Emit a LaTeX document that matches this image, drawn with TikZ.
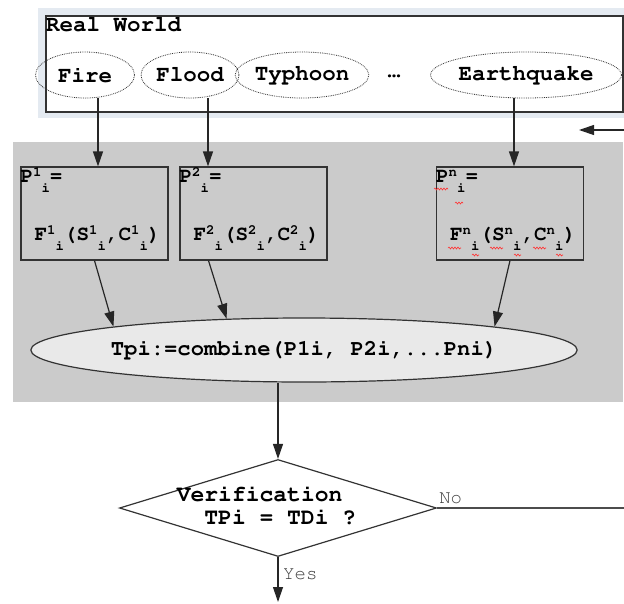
\documentclass[tikz,border=0pt]{standalone}
\usepackage[T1]{fontenc}
\usepackage{courier}
\usepackage{tikz}
\usetikzlibrary{shapes.geometric}
\usetikzlibrary{arrows.meta}
\usetikzlibrary{decorations.pathmorphing}

\definecolor{panel}{HTML}{CBCBCB}
\definecolor{halo}{HTML}{E4EAF1}
\definecolor{ovalfill}{HTML}{E9E9E9}
\definecolor{edge}{HTML}{333333}

% superscript and subscript side by side, as in the scan
\newcommand{\supsub}[2]{\raisebox{6pt}{\fontsize{14}{14}\selectfont #1}\raisebox{-10pt}{\fontsize{14}{14}\selectfont #2}}

\begin{document}
\begin{tikzpicture}[x=1pt, y=-1pt,
    bigtext/.style={font=\ttfamily\bfseries\fontsize{22.5}{23}\selectfont},
    hazard/.style={ellipse, draw=edge, densely dotted, line width=0.8pt, inner sep=0pt, minimum height=46pt, bigtext},
    pbox/.style={rectangle, draw=edge, line width=1.2pt, minimum width=147pt, minimum height=93pt, inner sep=0pt},
    boxtext/.style={inner sep=0pt, anchor=base west, font=\ttfamily\bfseries\fontsize{21}{21}\selectfont},
    combine/.style={ellipse, draw=edge, fill=ovalfill, line width=1.2pt, minimum width=470pt, minimum height=64pt, inner sep=0pt, font=\ttfamily\bfseries\fontsize{22.2}{23}\selectfont},
    decision/.style={diamond, draw=edge, fill=white, line width=1.2pt, minimum width=317pt, minimum height=97pt, inner sep=0pt},
    smalltext/.style={inner sep=0pt, anchor=base west, text=black!75, font=\ttfamily\fontsize{19}{19}\selectfont},
    arr/.style={draw=black!85, line width=1.2pt, -{Triangle[length=15pt,width=10pt]}},
    typo/.style={red!80, line width=0.6pt, decorate, decoration={snake, segment length=3pt, amplitude=1pt}}]

        \useasboundingbox (0, 0) rectangle (624, 603);

        % backgrounds
        \fill[halo] (38, 8) rectangle (624, 118);
        \filldraw[draw=edge, fill=white, line width=1.2pt] (46, 16) rectangle (623, 112);
        \fill[panel] (13, 142) rectangle (623, 402);

        % real world
        \node[bigtext, anchor=base west, inner sep=0pt] (world) at (46, 31) {Real World};
        \node[hazard, minimum width=99pt] (fire) at (85, 75) {Fire};
        \node[hazard, minimum width=98pt] (flood) at (190, 75) {Flood};
        \node[hazard, minimum width=129pt] (typhoon) at (302, 75) {Typhoon};
        \node[bigtext] (dots) at (394, 76) {.\kern-9pt.\kern-9pt.};
        \node[hazard, minimum width=172pt] (quake) at (526, 75) {Earthquake};

        % probabilities
        \node[pbox] (p1) at (94.5, 213.5) {};
        \node[boxtext] (p1head) at ([yshift=-16pt]p1.north west) {P\supsub{1}{i}=};
        \node[boxtext] (p1body) at ([xshift=14pt, yshift=20pt]p1.south west) {F\supsub{1}{i}(S\supsub{1}{i},C\supsub{1}{i})};

        \node[pbox] (p2) at (253.5, 213.5) {};
        \node[boxtext] (p2head) at ([yshift=-16pt]p2.north west) {P\supsub{2}{i}=};
        \node[boxtext] (p2body) at ([xshift=14pt, yshift=20pt]p2.south west) {F\supsub{2}{i}(S\supsub{2}{i},C\supsub{2}{i})};

        \node[pbox] (pn) at (510, 213.5) {};
        \node[boxtext] (pnhead) at ([yshift=-16pt]pn.north west) {P\supsub{n}{i}=};
        \node[boxtext] (pnbody) at ([xshift=14pt, yshift=20pt]pn.south west) {F\supsub{n}{i}(S\supsub{n}{i},C\supsub{n}{i})};

        % spell check marks
        \foreach \sx/\sy/\sl in {434/189/14, 455/203/8, 448/248/13, 472/255/7, 490/248/13, 514/255/7, 533/248/13, 556/255/7}
            \draw[typo] (\sx, \sy) -- ++(\sl, 0);

        % combine and verify
        \node[combine] (tpi) at (304, 350) {Tpi:=combine(P1i, P2i,...Pni)};
        \node[decision] (ver) at (278, 508) {};
        \node[bigtext, align=left, font=\ttfamily\bfseries\fontsize{23}{23}\selectfont] (vtext) at (266.5, 506) {Verification\\~~TPi = TDi ?};
        \node[smalltext] (no) at ([xshift=2pt, yshift=5pt]ver.east) {No};
        \node[smalltext] (yes) at ([xshift=5pt, yshift=-22pt]ver.south) {Yes};

        \coordinate (noend) at (624, 508);
        \coordinate (yesend) at (278, 602);
        \coordinate (backin) at (624, 130);
        \coordinate (backtip) at (579, 130);

        % connectors
        \draw[arr] ([xshift=13pt]fire.south) -- ([xshift=13pt]fire.south |- p1.north);
        \draw[arr] ([xshift=18pt]flood.south) -- ([xshift=18pt]flood.south |- p2.north);
        \draw[arr] ([xshift=-12pt]quake.south) -- ([xshift=-12pt]quake.south |- pn.north);
        \draw[arr] (backin) -- (backtip);
        \draw[arr] (p1.south) -- (tpi.173);
        \draw[arr] ([xshift=-45pt]p2.south) -- (tpi.158);
        \draw[arr] (pn.south) -- (tpi.7);
        \draw[arr] (tpi.south -| ver.north) -- (ver.north);
        \draw[draw=black!70, line width=1.2pt] (ver.east) -- (noend);
        \draw[arr] (ver.south) -- (yesend);
    \end{tikzpicture}
\end{document}
